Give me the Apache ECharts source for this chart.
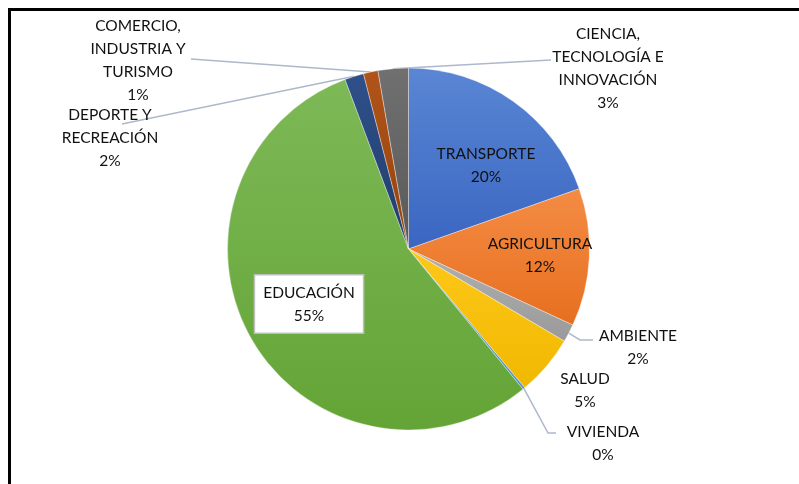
<!DOCTYPE html>
<html>
<head>
<meta charset="utf-8">
<script src="https://cdn.jsdelivr.net/npm/echarts@6/dist/echarts.min.js"></script>
<style>
  html, body { margin: 0; padding: 0; background: #fff; }
  #chart { width: 799px; height: 484px; }
</style>
</head>
<body>
<div id="chart"></div>
<script>
// sectores y porcentajes
var sectores = ['TRANSPORTE', 'AGRICULTURA', 'AMBIENTE', 'SALUD', 'VIVIENDA', 'EDUCACIÓN',
  'DEPORTE Y\nRECREACIÓN', 'COMERCIO,\nINDUSTRIA Y\nTURISMO', 'CIENCIA,\nTECNOLOGÍA E\nINNOVACIÓN'];
var valores = [19.6, 12.3, 1.6, 5.4, 0.2, 55.2, 1.7, 1.3, 2.7];
var coloresClaros = ['#5a86d4', '#f48c44', '#b0b0b0', '#ffc81a', '#6aa6dc', '#7db957', '#2f5089', '#b0541a', '#707070'];
var coloresOscuros = ['#3a66c2', '#e76f1f', '#9a9a9a', '#f0b800', '#4e8fcc', '#64a436', '#203d6c', '#94420c', '#595959'];

var chart = echarts.init(document.getElementById('chart'));

// posición de cada etiqueta (centro del bloque de texto) y punto final de la guía
var posEtiqueta = [
  { x: 486, y: 165 },
  { x: 540, y: 255 },
  { x: 638, y: 347, linea: [[580, 340], [593, 340]] },
  { x: 585, y: 390 },
  { x: 603, y: 443, linea: [[548, 433], [556, 433]] },
  { x: 309, y: 304 },
  { x: 110, y: 138, linea: [[122, 124], [122, 124]] },
  { x: 138, y: 60, linea: [[191, 59], [191, 59]] },
  { x: 608, y: 68, linea: [[551, 60], [551, 60]] }
];

var datos = sectores.map(function (s, i) {
  var item = {
    name: s,
    value: valores[i],
    itemStyle: {
      color: new echarts.graphic.LinearGradient(0, 0, 0, 1, [
        { offset: 0, color: coloresClaros[i] },
        { offset: 1, color: coloresOscuros[i] }
      ])
    }
  };
  if (!posEtiqueta[i].linea) {
    item.labelLine = { show: false };
  }
  if (i === 5) {
    item.label = {
      backgroundColor: '#ffffff',
      borderColor: '#bfbfbf',
      borderWidth: 1.5,
      padding: [6, 8, 5, 8]
    };
  }
  return item;
});

var option = {
  backgroundColor: '#ffffff',
  animation: false,
  graphic: [{
    type: 'rect',
    shape: { x: 9.5, y: 9.5, width: 900, height: 600 },
    style: { fill: 'none', stroke: '#000', lineWidth: 3 },
    z: 10
  }],
  series: [{
    type: 'pie',
    center: [408.5, 249],
    radius: 181,
    startAngle: 90,
    clockwise: true,
    avoidLabelOverlap: false,
    itemStyle: { borderColor: 'rgba(255,255,255,0.6)', borderWidth: 0.6 },
    label: {
      show: true,
      position: 'outside',
      fontFamily: 'Lato',
      fontSize: 15.5,
      lineHeight: 23,
      color: '#111111',
      align: 'center',
      formatter: function (p) {
        return p.name + '\n' + Math.round(p.percent) + '%';
      }
    },
    labelLine: {
      show: true,
      lineStyle: { color: '#adb9ca', width: 1.5 }
    },
    labelLayout: function (params) {
      var pos = posEtiqueta[params.dataIndex];
      var res = { x: pos.x, y: pos.y, align: 'center', verticalAlign: 'middle' };
      if (pos.linea && params.labelLinePoints) {
        res.labelLinePoints = [params.labelLinePoints[0], pos.linea[0], pos.linea[1]];
      }
      return res;
    },
    data: datos
  }]
};

chart.setOption(option);
</script>
</body>
</html>
